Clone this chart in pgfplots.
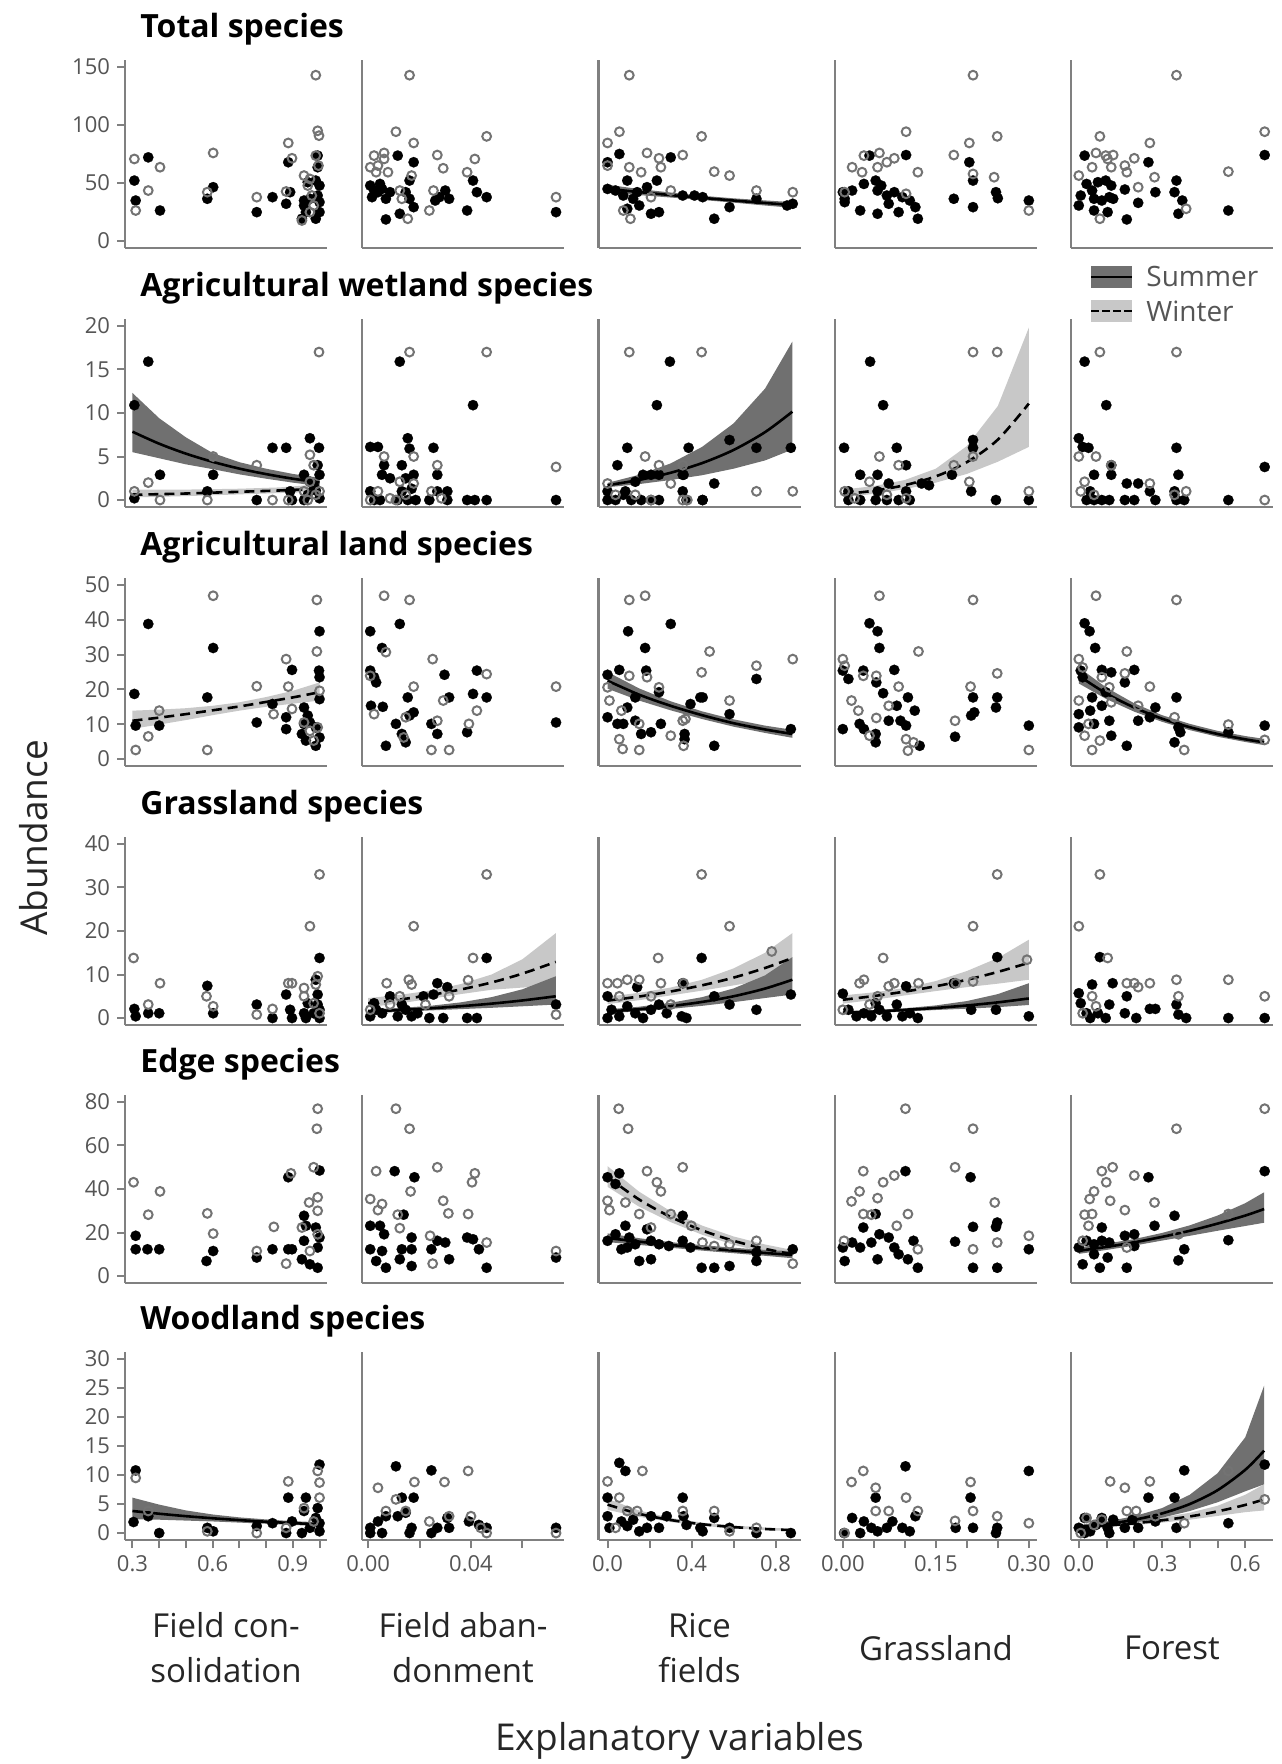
\documentclass[border=0pt]{standalone}
\usepackage{fontspec}
\setmainfont{Open Sans}
\usepackage{pgfplots}
\pgfplotsset{compat=1.18}
\definecolor{axgray}{RGB}{128,128,128}
\definecolor{labgray}{RGB}{85,85,85}
\definecolor{ptgray}{RGB}{115,115,115}
\definecolor{bandS}{RGB}{112,112,112}
\definecolor{bandW}{RGB}{200,200,200}
\pgfplotsset{
  P/.style={width=101pt,height=94pt,scale only axis,anchor=south west,
    axis x line*=bottom,axis y line*=left,
    axis line style={draw=axgray,line width=1.3pt},
    xtick=\empty,ytick=\empty,tick align=outside,major tick length=4pt,
    tick style={draw=axgray,line width=1pt},
    scaled ticks=false,
    tick label style={font=\fontsize{11}{13}\selectfont,text=labgray},
    /pgf/number format/assume math mode=true},
  C1/.style={at={(62.5pt,#1)},xmin=0.272,xmax=1.028},
  C2/.style={at={(181pt,#1)},xmin=-0.0024,xmax=0.0762},
  C3/.style={at={(299.25pt,#1)},xmin=-0.043,xmax=0.919},
  C4/.style={at={(417.5pt,#1)},xmin=-0.0126,xmax=0.3132},
  C5/.style={at={(535.5pt,#1)},xmin=-0.028,xmax=0.700},
  R1/.style={ymin=-6,ymax=156},
  R2/.style={ymin=-0.8,ymax=20.8},
  R3/.style={ymin=-2,ymax=52},
  R4/.style={ymin=-1.6,ymax=41.6},
  R5/.style={ymin=-3.2,ymax=83.2},
  R6/.style={ymin=-1.2,ymax=31.2},
  X1/.style={xtick={0.3,0.4,0.5,0.6,0.7,0.8,0.9,1.0},xticklabels={0.3,,,0.6,,,0.9,}},
  X2/.style={xtick={0,0.02,0.04,0.06},xticklabels={0.00,,0.04,}},
  X3/.style={xtick={0,0.2,0.4,0.6,0.8},xticklabels={0.0,,0.4,,0.8}},
  X4/.style={xtick={0,0.05,0.1,0.15,0.2,0.25,0.3},xticklabels={0.00,,,0.15,,,0.30}},
  X5/.style={xtick={0,0.1,0.2,0.3,0.4,0.5,0.6},xticklabels={0.0,,,0.3,,,0.6}},
  S/.style={only marks,mark=*,mark size=2.6pt,mark options={draw=black,fill=black,line width=0.1pt}},
  W/.style={only marks,mark=o,mark size=2.2pt,mark options={draw=ptgray,line width=1pt}},
  SL/.style={no marks,black,line width=1.3pt,smooth},
  WL/.style={no marks,black,line width=1.3pt,smooth,dash pattern=on 5pt off 3pt},
  SB/.style={no marks,draw=none,fill=bandS},
  WB/.style={no marks,draw=none,fill=bandW},
}
\newcommand\ttl[2]{\node[anchor=west,inner sep=0pt,font=\fontsize{16}{19}\selectfont\bfseries] at (70pt,#1) {#2};}
\begin{document}
\begin{tikzpicture}
\useasboundingbox (0,0) rectangle (640.5pt,-882pt);
% ---------------- Row 1: Total species
\ttl{-14.5pt}{Total species}
\begin{axis}[P,C1=-124pt,R1,ytick={0,50,100,150}]
\addplot[S] coordinates {(0.307,52.1)(0.359,72.1)(0.312,34.9)(0.403,26.3)(0.580,36.4)(0.602,46.4)(0.765,24.9)(0.824,37.8)(0.875,32.1)(0.883,67.9)(0.890,42.1)(0.942,34.9)(0.949,24.9)(0.993,73.6)(0.993,63.6)(0.986,52.1)(1.0,47.8)(0.993,39.2)(0.942,30.6)(0.986,19.2)(1.0,24.9)(0.964,36.4)(0.956,50.7)(0.934,19.2)(1.0,33.5)};
\addplot[W] coordinates {(0.307,70.7)(0.359,43.5)(0.403,63.6)(0.312,26.3)(0.602,75.9)(0.580,42.1)(0.765,37.8)(0.883,84.5)(0.897,71.3)(0.875,42.7)(0.942,56.4)(0.964,53.5)(0.986,73.6)(0.993,95.0)(0.998,90.8)(0.986,142.9)(0.956,47.8)(0.971,39.2)(0.934,17.7)(0.964,24.9)(0.996,65.0)(0.978,30.6)};
\end{axis}
\begin{axis}[P,C2=-124pt,R1]
\addplot[S] coordinates {(0.0008,47.8)(0.0023,43.5)(0.0038,42.1)(0.0054,44.9)(0.0015,37.8)(0.0069,36.4)(0.0115,73.6)(0.0177,67.9)(0.0161,52.1)(0.0146,42.1)(0.0161,36.4)(0.0177,29.2)(0.0123,23.5)(0.0069,18.6)(0.0261,34.9)(0.0277,37.8)(0.0300,43.5)(0.0315,36.4)(0.0385,26.3)(0.0408,52.1)(0.0423,42.1)(0.0461,37.8)(0.0731,24.9)(0.0046,49.2)(0.0085,42.1)};
\addplot[W] coordinates {(0.0161,142.9)(0.0108,94.2)(0.0177,84.5)(0.0023,73.6)(0.0062,75.9)(0.0008,63.6)(0.0038,65.0)(0.0077,59.3)(0.0169,56.4)(0.0123,43.5)(0.0131,36.4)(0.0269,74.1)(0.0292,62.7)(0.0254,43.5)(0.0238,26.3)(0.0154,19.2)(0.0385,59.3)(0.0415,70.7)(0.0461,90.2)(0.0731,37.8)(0.0062,70.7)(0.0031,59.3)};
\end{axis}
\begin{axis}[P,C3=-124pt,R1]
\addplot[SB] coordinates {(0,48.5)(0.15,44.8)(0.3,41.8)(0.45,39.0)(0.6,36.8)(0.75,35.0)(0.88,33.5)(0.88,28.6)(0.75,30.6)(0.6,33.1)(0.45,35.4)(0.3,37.5)(0.15,39.6)(0,41.7)};
\addplot[S] coordinates {(0.0565,75.0)(0,67.9)(0.301,72.1)(0.235,52.1)(0,44.9)(0.038,43.5)(0.075,39.2)(0.094,52.1)(0.122,36.4)(0.151,30.6)(0.094,27.8)(0.207,23.5)(0.245,24.9)(0.188,46.4)(0.358,39.2)(0.414,39.2)(0.141,42.1)(0.453,37.8)(0.508,19.2)(0.581,29.2)(0.709,36.4)(0.882,32.1)(0.855,30.6)};
\addplot[W] coordinates {(0.1035,142.9)(0.0565,94.2)(0,84.5)(0.188,75.9)(0.245,71.3)(0.358,74.1)(0.448,90.2)(0.1035,63.6)(0.16,59.3)(0.254,63.6)(0,65.0)(0.075,26.3)(0.109,19.2)(0.207,37.8)(0.301,43.5)(0.508,59.8)(0.581,56.4)(0.709,43.5)(0.882,42.1)};
\addplot[SL] coordinates {(0,45.0)(0.15,42.2)(0.3,39.6)(0.45,37.2)(0.6,34.9)(0.75,32.8)(0.88,31.0)};
\end{axis}
\begin{axis}[P,C4=-124pt,R1]
\addplot[S] coordinates {(0.043,73.6)(0.102,74.1)(0.204,67.9)(0.210,52.1)(0.179,36.4)(0.210,29.2)(0.247,42.1)(0.250,36.9)(0.300,34.9)(0,42.1)(0.003,36.4)(0.015,43.5)(0.034,49.2)(0.053,52.1)(0.062,47.8)(0.056,43.5)(0.071,39.2)(0.083,42.1)(0.096,37.8)(0.108,34.9)(0.117,29.2)(0.121,19.2)(0.028,26.3)(0.056,23.5)(0.090,24.9)(0.074,32.1)(0.003,33.5)};
\addplot[W] coordinates {(0.210,142.9)(0.102,94.2)(0.204,84.5)(0.249,90.2)(0.179,74.1)(0.034,73.6)(0.059,75.9)(0.083,71.3)(0.015,63.6)(0.031,59.3)(0.056,63.6)(0.121,59.3)(0.210,57.8)(0.244,55.0)(0.300,26.3)(0.003,42.1)(0.102,40.7)(0.071,67.9)};
\end{axis}
\begin{axis}[P,C5=-124pt,R1]
\addplot[S] coordinates {(0.021,73.6)(0.251,67.9)(0.670,74.1)(0.352,52.1)(0.276,42.1)(0.345,42.1)(0.373,34.9)(0.359,23.5)(0.539,26.3)(0.173,18.6)(0.166,44.4)(0.214,32.9)(0.007,39.2)(0,30.6)(0.028,49.2)(0.048,43.5)(0.069,50.7)(0.097,52.1)(0.117,47.8)(0.055,36.4)(0.083,34.9)(0.110,37.8)(0.055,26.3)(0.104,24.9)(0.124,36.4)};
\addplot[W] coordinates {(0.352,142.9)(0.670,94.2)(0.076,90.2)(0.256,84.5)(0.062,75.9)(0.097,73.6)(0.124,74.1)(0.200,71.3)(0.048,63.6)(0.117,63.6)(0.166,65.0)(0.173,59.3)(0,56.4)(0.273,55.0)(0.539,59.8)(0.214,46.4)(0.076,19.2)(0.387,27.8)(0.104,70.7)};
\end{axis}
% ---------------- Row 2: Agricultural wetland species
\ttl{-144pt}{Agricultural wetland species}
\begin{axis}[P,C1=-253.5pt,R2,ytick={0,5,10,15,20}]
\addplot[WB] coordinates {(0.3,1.2)(0.5,1.2)(0.7,1.3)(0.85,1.45)(1.0,1.8)(1.0,0.95)(0.85,0.8)(0.7,0.65)(0.5,0.45)(0.3,0.3)};
\addplot[SB] coordinates {(0.3,12.3)(0.4,9.4)(0.5,7.2)(0.6,5.4)(0.7,4.35)(0.8,3.6)(0.9,3.0)(1.0,2.55)(1.0,1.6)(0.9,2.0)(0.8,2.45)(0.7,2.95)(0.6,3.55)(0.5,4.1)(0.4,4.8)(0.3,5.5)};
\addplot[S] coordinates {(0.307,10.9)(0.359,15.9)(0.403,2.9)(0.307,0.2)(0.580,1.0)(0.602,2.9)(0.765,0)(0.824,6.0)(0.875,6.0)(0.890,1.0)(0.964,7.1)(0.998,6.0)(0.993,4.0)(0.942,2.9)(0.964,2.1)(0.986,1.1)(1.0,0.2)(0.942,0)(0.897,0)(0.956,0.6)(1.0,2.9)(0.978,1.7)};
\addplot[W] coordinates {(0.307,1.0)(0.359,2.0)(0.403,0)(0.580,0)(0.602,5.0)(0.765,4.0)(0.824,0)(0.998,17.0)(0.964,5.2)(0.978,4.0)(0.964,2.1)(0.986,0.6)(0.942,1.0)(1.0,1.0)(0.956,0)(0.883,0)};
\addplot[WL] coordinates {(0.3,0.6)(0.5,0.75)(0.7,0.95)(0.85,1.1)(1.0,1.3)};
\addplot[SL] coordinates {(0.3,7.85)(0.4,6.47)(0.5,5.33)(0.6,4.39)(0.7,3.61)(0.8,2.98)(0.9,2.45)(1.0,2.02)};
\end{axis}
\begin{axis}[P,C2=-253.5pt,R2]
\addplot[S] coordinates {(0.0008,6.1)(0.0038,6.1)(0.0123,15.9)(0.0408,10.9)(0.0062,4.0)(0.0054,2.9)(0.0085,2.5)(0.0154,7.1)(0.0161,5.9)(0.0254,6.0)(0.0269,2.9)(0.0131,4.0)(0.0146,2.5)(0.0177,2.9)(0.0008,1.0)(0.0023,0)(0.0046,0)(0.0115,0)(0.0154,0)(0.0185,0)(0.0238,0)(0.0269,1.0)(0.0308,1.0)(0.0308,0)(0.0385,0)(0.0415,0)(0.0461,0)(0.0731,0)(0.0131,1.0)(0.0169,1.3)};
\addplot[W] coordinates {(0.0062,5.0)(0.0161,17.0)(0.0461,17.0)(0.0177,5.0)(0.0269,4.0)(0.0731,3.8)(0.0038,1.0)(0.0123,2.1)(0.0177,1.9)(0.0246,1.0)(0.0285,0.2)(0.0008,0)(0.0108,0)(0.0146,0.6)(0.0085,0.2)};
\end{axis}
\begin{axis}[P,C3=-253.5pt,R2]
\addplot[SB] coordinates {(0,1.97)(0.15,2.9)(0.3,4.2)(0.45,6.1)(0.6,8.8)(0.75,12.8)(0.88,18.2)(0.88,5.8)(0.75,4.55)(0.6,3.6)(0.45,2.85)(0.3,2.3)(0.15,1.83)(0,1.47)};
\addplot[S] coordinates {(0.047,4.0)(0.094,6.0)(0.235,10.9)(0.297,15.9)(0.386,6.0)(0.358,2.9)(0.169,2.9)(0.132,2.1)(0.207,2.9)(0.245,2.9)(0,1.0)(0,0)(0.038,0)(0.075,0.6)(0.113,0)(0.160,0)(0.207,0)(0.245,0)(0.358,1.0)(0.376,0)(0.452,0)(0.085,1.0)(0.581,6.9)(0.709,6.0)(0.873,6.0)(0.508,1.9)(0.362,2.9)(0.453,0)};
\addplot[W] coordinates {(0.1035,17.0)(0.448,17.0)(0,1.9)(0.179,5.0)(0.245,4.0)(0.301,1.9)(0.358,4.0)(0.038,0.6)(0.132,0.6)(0.207,0)(0.358,0)(0.709,1.0)(0.882,1.0)(0.380,0)};
\addplot[SL] coordinates {(0,1.7)(0.15,2.31)(0.3,3.13)(0.45,4.24)(0.6,5.75)(0.75,7.80)(0.88,10.15)};
\end{axis}
\begin{axis}[P,C4=-253.5pt,R2]
\addplot[WB] coordinates {(0,1.2)(0.05,1.6)(0.1,2.3)(0.15,3.6)(0.2,6.2)(0.25,10.8)(0.3,19.8)(0.3,6.1)(0.25,4.4)(0.2,3.0)(0.15,2.0)(0.1,1.25)(0.05,0.7)(0,0.35)};
\addplot[S] coordinates {(0.002,6.0)(0.044,15.9)(0.065,10.9)(0.087,6.0)(0.210,6.9)(0.210,6.0)(0.102,4.0)(0.028,2.9)(0.056,2.9)(0.074,1.9)(0.127,1.9)(0.139,1.7)(0.176,2.9)(0.207,1.0)(0.247,0)(0.300,0)(0.009,0)(0.028,0)(0.053,0)(0.071,0)(0.090,0)(0.108,0)(0.009,1.0)(0.056,1.0)(0.102,1.0)};
\addplot[W] coordinates {(0.210,17.0)(0.249,17.0)(0.059,5.0)(0.090,4.0)(0.179,4.0)(0.210,5.0)(0.204,2.1)(0.300,1.0)(0.043,2.1)(0.003,1.0)(0.019,0.2)(0.071,0.6)(0.102,0.2)};
\addplot[WL] coordinates {(0,0.67)(0.05,1.07)(0.1,1.71)(0.15,2.72)(0.2,4.35)(0.25,6.94)(0.3,11.08)};
\end{axis}
\begin{axis}[P,C5=-253.5pt,R2]
\addplot[S] coordinates {(0.021,15.9)(0.099,10.9)(0,7.1)(0.014,6.1)(0.035,6.0)(0.352,6.0)(0.670,3.8)(0.117,4.0)(0.055,2.9)(0.117,2.9)(0.173,1.9)(0.214,1.9)(0.359,2.9)(0.345,1.0)(0.539,0)(0.028,0)(0.055,0)(0.083,0)(0.110,0)(0.166,0)(0.200,0)(0.276,0)(0.352,0)(0.380,0)(0.041,1.0)(0.256,1.0)};
\addplot[W] coordinates {(0.076,17.0)(0.352,17.0)(0,5.0)(0.062,5.0)(0.117,4.0)(0.021,2.1)(0.007,1.0)(0.256,1.9)(0.387,1.0)(0.670,0)(0.055,0.6)(0.345,0.6)};
\end{axis}
% legend
\fill[bandS] (545.5pt,-133pt) rectangle (566pt,-144pt);
\draw[black,line width=1.3pt] (545.5pt,-138.5pt) -- (566pt,-138.5pt);
\fill[bandW] (545.5pt,-150pt) rectangle (566pt,-161pt);
\draw[black,line width=1.3pt,dash pattern=on 4pt off 1.5pt] (545.5pt,-155.5pt) -- (566pt,-155.5pt);
\node[anchor=west,inner sep=0pt,text=labgray,font=\fontsize{14}{16}\selectfont] at (573pt,-138.5pt) {Summer};
\node[anchor=west,inner sep=0pt,text=labgray,font=\fontsize{14}{16}\selectfont] at (573pt,-155.5pt) {Winter};
% ---------------- Row 3: Agricultural land species
\ttl{-273.5pt}{Agricultural land species}
\begin{axis}[P,C1=-383pt,R3,ytick={0,10,20,30,40,50}]
\addplot[WB] coordinates {(0.3,13.9)(0.4,14.2)(0.5,14.6)(0.6,15.3)(0.7,16.3)(0.8,17.8)(0.9,19.6)(1.0,22.0)(1.0,16.8)(0.9,15.9)(0.8,15.0)(0.7,13.9)(0.6,12.6)(0.5,11.2)(0.4,9.9)(0.3,8.7)};
\addplot[S] coordinates {(0.359,38.8)(0.307,18.7)(0.602,31.9)(0.580,17.7)(0.312,9.6)(0.400,9.6)(0.765,10.5)(0.824,15.8)(0.897,25.6)(0.875,12.0)(0.875,8.6)(1.0,36.7)(0.998,25.4)(1.0,23.5)(1.0,17.2)(0.942,14.8)(0.956,12.5)(0.942,10.1)(0.986,9.1)(0.934,7.2)(0.949,5.3)(0.986,3.8)(1.0,6.2)(0.964,10.5)};
\addplot[W] coordinates {(0.602,46.9)(0.990,45.7)(0.312,2.6)(0.359,6.5)(0.400,13.9)(0.580,2.6)(0.765,20.9)(0.875,28.7)(0.883,20.8)(0.828,12.9)(0.990,30.9)(0.897,14.4)(0.942,10.5)(0.993,9.1)(0.978,5.3)(0.964,8.1)(1.0,19.6)};
\addplot[WL] coordinates {(0.3,11.0)(0.4,11.9)(0.5,12.9)(0.6,14.0)(0.7,15.1)(0.8,16.4)(0.9,17.7)(1.0,19.2)};
\end{axis}
\begin{axis}[P,C2=-383pt,R3]
\addplot[S] coordinates {(0.0008,36.7)(0.0123,38.8)(0.0054,31.9)(0.0008,25.4)(0.0031,22.0)(0.0011,15.3)(0.0057,15.0)(0.0069,3.8)(0.0108,10.1)(0.0131,7.2)(0.0146,4.8)(0.0154,17.7)(0.0161,12.5)(0.0177,13.4)(0.0246,10.1)(0.0269,7.2)(0.0297,24.2)(0.0315,17.7)(0.0385,7.7)(0.0408,18.7)(0.0423,25.4)(0.0461,17.7)(0.0731,10.5)(0.0023,23.5)};
\addplot[W] coordinates {(0.0062,46.9)(0.0161,45.7)(0.0069,30.7)(0.0008,23.9)(0.0023,12.9)(0.0177,20.8)(0.0251,28.7)(0.0246,2.6)(0.0315,2.6)(0.0269,11.0)(0.0292,16.8)(0.0423,13.9)(0.0392,10.1)(0.0461,24.4)(0.0731,20.8)(0.0146,12.0)(0.0138,6.2)};
\end{axis}
\begin{axis}[P,C3=-383pt,R3]
\addplot[SB] coordinates {(0,25.0)(0.15,20.3)(0.3,16.6)(0.45,13.7)(0.6,11.4)(0.75,9.6)(0.88,8.4)(0.88,6.1)(0.75,7.5)(0.6,9.3)(0.45,11.5)(0.3,14.0)(0.15,16.8)(0,20.2)};
\addplot[S] coordinates {(0.098,36.7)(0.301,38.8)(0.179,31.9)(0.184,25.4)(0.056,25.6)(0,24.2)(0.245,19.2)(0.132,17.7)(0.094,14.8)(0,12.0)(0.047,10.1)(0.075,10.1)(0.132,11.0)(0.160,7.2)(0.207,7.7)(0.254,10.1)(0.367,5.7)(0.367,7.2)(0.442,17.7)(0.395,15.8)(0.453,17.7)(0.581,12.9)(0.709,23.0)(0.873,8.6)(0.508,3.8)};
\addplot[W] coordinates {(0.1035,45.7)(0.179,46.9)(0,20.6)(0.009,16.8)(0.1035,23.9)(0.188,23.5)(0.245,20.6)(0.066,13.9)(0.151,10.1)(0.056,5.7)(0.072,2.9)(0.151,2.6)(0.301,6.7)(0.358,11.0)(0.448,24.9)(0.486,30.9)(0.362,3.8)(0.581,16.8)(0.709,26.8)(0.882,28.7)(0.371,11.5)};
\addplot[SL] coordinates {(0,22.5)(0.15,18.5)(0.3,15.3)(0.45,12.6)(0.6,10.3)(0.75,8.5)(0.88,7.2)};
\end{axis}
\begin{axis}[P,C4=-383pt,R3]
\addplot[S] coordinates {(0.043,39.0)(0.056,36.7)(0.059,31.9)(0,25.4)(0.009,23.0)(0.033,25.4)(0.054,22.0)(0.083,25.6)(0.065,18.9)(0.105,17.7)(0.116,13.9)(0.087,15.3)(0.074,11.0)(0.093,11.0)(0.102,9.6)(0,8.6)(0.027,10.1)(0.034,8.6)(0.053,7.2)(0.053,4.8)(0.124,3.8)(0.210,17.7)(0.207,12.5)(0.212,13.4)(0.249,17.7)(0.247,14.8)(0.300,9.6)(0.181,6.4)};
\addplot[W] coordinates {(0.059,46.9)(0.210,45.7)(0,28.7)(0.003,26.8)(0.033,23.9)(0.122,30.9)(0.014,16.8)(0.025,13.9)(0.054,23.9)(0.090,20.8)(0.074,15.3)(0.054,11.8)(0.043,6.7)(0.102,5.7)(0.105,2.4)(0.114,4.8)(0.181,11.0)(0.206,20.8)(0.249,24.6)(0.300,2.6)};
\end{axis}
\begin{axis}[P,C5=-383pt,R3]
\addplot[SB] coordinates {(0,26.3)(0.1,20.5)(0.2,16.0)(0.3,12.6)(0.4,10.1)(0.5,8.1)(0.6,6.6)(0.668,5.8)(0.668,4.0)(0.6,4.9)(0.5,6.4)(0.4,8.3)(0.3,10.7)(0.2,13.6)(0.1,17.2)(0,21.7)};
\addplot[S] coordinates {(0.021,39.0)(0.039,36.7)(0.059,31.9)(0.014,23.5)(0.007,25.4)(0.083,25.6)(0.117,24.9)(0.200,25.6)(0.166,22.0)(0.048,17.7)(0.097,19.2)(0.083,15.3)(0,12.9)(0.041,13.9)(0.110,11.0)(0,9.1)(0.055,10.1)(0.117,6.7)(0.173,3.8)(0.214,11.0)(0.276,14.8)(0.256,12.0)(0.352,17.7)(0.359,9.1)(0.345,4.8)(0.366,7.7)(0.539,7.7)(0.670,9.6)};
\addplot[W] coordinates {(0.062,46.9)(0.352,45.7)(0.173,30.9)(0,28.7)(0.014,26.3)(0.083,23.5)(0.166,24.6)(0.256,20.8)(0.110,20.6)(0,16.8)(0.214,15.3)(0.117,16.3)(0.021,6.7)(0.076,5.3)(0.048,2.6)(0.345,12.0)(0.380,2.6)(0.539,9.9)(0.670,5.5)(0.035,10.1)};
\addplot[SL] coordinates {(0,23.9)(0.1,18.8)(0.2,14.8)(0.3,11.6)(0.4,9.15)(0.5,7.2)(0.6,5.66)(0.668,4.81)};
\end{axis}
% ---------------- Row 4: Grassland species
\ttl{-403pt}{Grassland species}
\begin{axis}[P,C1=-512.5pt,R4,ytick={0,10,20,30,40}]
\addplot[S] coordinates {(0.307,2.1)(0.312,0.4)(0.359,1.1)(0.400,1.1)(0.580,7.4)(0.602,1.1)(0.765,3.1)(0.824,0)(0.875,5.4)(0.890,1.9)(0.897,0)(0.942,1.1)(0.956,3.4)(1.0,13.8)(0.986,8.8)(0.993,5.4)(0.993,3.1)(0.978,1.1)(1.0,0)(0.949,0)(1.0,1.9)};
\addplot[W] coordinates {(0.304,13.8)(0.403,8.0)(0.359,3.1)(0.577,5.0)(0.602,2.7)(0.765,0.8)(0.824,2.1)(0.883,8.0)(0.897,8.0)(0.942,6.9)(0.942,5.0)(0.964,21.1)(1.0,33.0)(0.986,7.7)(0.993,9.6)(0.978,3.4)(1.0,1.1)};
\end{axis}
\begin{axis}[P,C2=-512.5pt,R4]
\addplot[WB] coordinates {(0,4.6)(0.012,5.3)(0.024,6.3)(0.036,7.8)(0.048,10.0)(0.06,13.5)(0.073,19.5)(0.073,7.4)(0.06,7.0)(0.048,6.5)(0.036,5.5)(0.024,4.4)(0.012,3.35)(0,2.5)};
\addplot[SB] coordinates {(0,2.0)(0.012,2.3)(0.024,2.8)(0.036,3.6)(0.048,4.8)(0.06,6.6)(0.073,9.6)(0.073,3.1)(0.06,2.7)(0.048,2.35)(0.036,2.05)(0.024,1.75)(0.012,1.4)(0,1.1)};
\addplot[S] coordinates {(0.0461,13.8)(0.0269,8.0)(0.0215,5.0)(0.0254,5.4)(0.0308,7.1)(0.0731,3.1)(0.0008,0.4)(0.0031,1.9)(0.0054,1.1)(0.0085,5.0)(0.0115,0.4)(0.0146,1.9)(0.0169,0.4)(0.0192,1.1)(0.0238,0)(0.0292,0)(0.0385,0)(0.0423,0)(0.0023,3.4)(0.0131,3.1)};
\addplot[W] coordinates {(0.0177,21.1)(0.0461,33.0)(0.0408,13.8)(0.0072,8.0)(0.0158,8.8)(0.0169,7.7)(0.0389,8.7)(0.0315,5.0)(0.0123,5.0)(0.0008,1.9)(0.0085,3.1)(0.0223,3.1)(0.0731,0.8)};
\addplot[WL] coordinates {(0,3.4)(0.012,4.23)(0.024,5.27)(0.036,6.56)(0.048,8.17)(0.06,10.2)(0.073,12.9)};
\addplot[SL] coordinates {(0,1.5)(0.012,1.83)(0.024,2.23)(0.036,2.72)(0.048,3.31)(0.06,4.04)(0.073,5.0)};
\end{axis}
\begin{axis}[P,C3=-512.5pt,R4]
\addplot[WB] coordinates {(0,4.9)(0.15,5.8)(0.3,7.0)(0.45,8.8)(0.6,11.4)(0.75,15.0)(0.88,19.5)(0.88,9.6)(0.75,8.7)(0.6,7.5)(0.45,6.3)(0.3,5.2)(0.15,4.1)(0,3.2)};
\addplot[SB] coordinates {(0,2.0)(0.15,2.6)(0.3,3.5)(0.45,4.8)(0.6,6.8)(0.75,9.8)(0.88,14.0)(0.88,5.4)(0.75,4.6)(0.6,3.65)(0.45,2.8)(0.3,2.1)(0.15,1.55)(0,1.1)};
\addplot[S] coordinates {(0.448,13.8)(0.358,8.0)(0.141,7.1)(0,5.0)(0.019,1.9)(0.056,0.4)(0.094,2.7)(0.132,1.1)(0.169,0)(0.207,1.9)(0.245,3.1)(0.282,1.1)(0.376,0)(0,0)(0.508,5.0)(0.581,3.1)(0.709,1.9)(0.873,5.4)(0.353,0.4)};
\addplot[W] coordinates {(0,8.0)(0.047,8.0)(0.094,8.8)(0.151,8.8)(0.241,13.8)(0.254,8.0)(0.448,33.0)(0.207,5.0)(0.056,5.0)(0.301,3.1)(0.581,21.1)(0.362,8.0)(0.782,15.3)};
\addplot[WL] coordinates {(0,4.0)(0.15,4.94)(0.3,6.1)(0.45,7.52)(0.6,9.29)(0.75,11.5)(0.88,13.8)};
\addplot[SL] coordinates {(0,1.5)(0.15,2.03)(0.3,2.74)(0.45,3.70)(0.6,5.0)(0.75,6.77)(0.88,8.8)};
\end{axis}
\begin{axis}[P,C4=-512.5pt,R4]
\addplot[WB] coordinates {(0,5.2)(0.05,5.9)(0.1,6.9)(0.15,8.5)(0.2,10.8)(0.25,13.8)(0.3,18.0)(0.3,8.8)(0.25,7.9)(0.2,7.1)(0.15,6.2)(0.1,5.2)(0.05,4.2)(0,3.3)};
\addplot[SB] coordinates {(0,1.6)(0.05,1.85)(0.1,2.25)(0.15,2.9)(0.2,3.9)(0.25,5.5)(0.3,8.0)(0.3,3.0)(0.25,2.5)(0.2,2.15)(0.15,1.85)(0.1,1.5)(0.05,1.15)(0,0.85)};
\addplot[S] coordinates {(0.249,14.0)(0,5.6)(0.102,7.3)(0.179,8.0)(0.300,0.4)(0.009,1.9)(0.022,0.4)(0.034,1.1)(0.046,0.4)(0.059,1.9)(0.071,0.4)(0.087,3.1)(0.096,0.4)(0.108,1.1)(0.121,0)(0.207,1.9)(0.247,1.9)(0.053,3.4)};
\addplot[W] coordinates {(0.249,33.0)(0.210,21.1)(0.065,13.8)(0.027,8.0)(0.034,8.8)(0.074,7.3)(0.083,8.0)(0.122,8.0)(0.056,5.0)(0.182,8.0)(0.210,8.4)(0.297,13.4)(0,1.9)(0.043,3.1)};
\addplot[WL] coordinates {(0,4.2)(0.05,5.05)(0.1,6.08)(0.15,7.31)(0.2,8.79)(0.25,10.6)(0.3,12.7)};
\addplot[SL] coordinates {(0,1.2)(0.05,1.5)(0.1,1.86)(0.15,2.32)(0.2,2.89)(0.25,3.6)(0.3,4.5)};
\end{axis}
\begin{axis}[P,C5=-512.5pt,R4]
\addplot[S] coordinates {(0.076,14.0)(0.048,7.7)(0.122,8.0)(0.173,5.0)(0,5.7)(0.007,3.4)(0.028,1.1)(0.041,0)(0.069,1.1)(0.097,0)(0.110,3.1)(0.166,1.1)(0.207,0)(0.256,2.1)(0.276,2.1)(0.352,3.1)(0.359,0.8)(0.387,0)(0.539,0)(0.670,0)};
\addplot[W] coordinates {(0.076,33.0)(0,21.1)(0.104,13.8)(0.173,8.0)(0.200,8.0)(0.214,7.1)(0.256,8.0)(0.352,8.8)(0.359,5.0)(0.539,8.8)(0.670,5.0)(0.048,5.0)(0.062,2.7)(0.014,1.1)};
\end{axis}
% ---------------- Row 5: Edge species
\ttl{-532pt}{Edge species}
\begin{axis}[P,C1=-641.5pt,R5,ytick={0,20,40,60,80}]
\addplot[S] coordinates {(0.312,18.5)(0.312,12.3)(0.356,12.3)(0.400,12.3)(0.577,6.9)(0.602,11.5)(0.765,8.5)(0.824,12.3)(0.883,12.3)(0.897,12.3)(0.883,45.4)(1.0,48.5)(0.942,27.7)(0.949,23.1)(0.986,22.3)(0.942,16.2)(0.993,13.1)(0.934,7.7)(0.964,5.4)(0.993,3.8)(1.0,17.7)};
\addplot[W] coordinates {(0.304,43.1)(0.403,38.9)(0.359,28.2)(0.580,28.8)(0.602,19.5)(0.765,11.5)(0.829,22.6)(0.875,5.7)(0.893,47.2)(0.978,50.0)(0.993,76.9)(0.990,67.7)(0.961,33.8)(0.993,36.2)(0.993,30.0)(0.934,22.3)(0.964,11.5)(0.993,19.2)};
\end{axis}
\begin{axis}[P,C2=-641.5pt,R5]
\addplot[S] coordinates {(0.0103,48.2)(0.0180,45.4)(0.0138,28.2)(0.0008,23.1)(0.0046,23.1)(0.0062,19.2)(0.0008,12.3)(0.0054,11.5)(0.0031,6.9)(0.0069,3.8)(0.0123,7.7)(0.0131,12.3)(0.0169,12.3)(0.0169,17.7)(0.0169,4.6)(0.0246,12.3)(0.0269,16.2)(0.0300,15.4)(0.0315,7.7)(0.0385,17.7)(0.0408,16.9)(0.0431,12.3)(0.0461,3.8)(0.0731,8.5)};
\addplot[W] coordinates {(0.0108,76.9)(0.0161,67.7)(0.0031,48.2)(0.0269,50.0)(0.0415,47.2)(0.0404,43.1)(0.0165,38.9)(0.0008,35.4)(0.0054,33.1)(0.0038,30.3)(0.0292,34.6)(0.0115,28.2)(0.0312,28.8)(0.0389,28.5)(0.0123,22.0)(0.0241,18.5)(0.0461,15.4)(0.0251,5.7)(0.0731,11.5)};
\end{axis}
\begin{axis}[P,C3=-641.5pt,R5]
\addplot[WB] coordinates {(0,50.5)(0.15,38.8)(0.3,29.8)(0.45,23.2)(0.6,18.2)(0.75,14.5)(0.88,12.0)(0.88,8.3)(0.75,10.8)(0.6,14.4)(0.45,19.0)(0.3,24.8)(0.15,31.9)(0,41.0)};
\addplot[SB] coordinates {(0,19.6)(0.15,17.4)(0.3,15.6)(0.45,14.2)(0.6,13.0)(0.75,12.0)(0.88,11.4)(0.88,8.2)(0.75,9.3)(0.6,10.5)(0.45,11.7)(0.3,13.0)(0.15,14.3)(0,15.6)};
\addplot[S] coordinates {(0.056,47.2)(0,45.4)(0.038,42.3)(0,16.2)(0.038,19.2)(0.085,23.1)(0.1035,17.7)(0.132,14.6)(0.188,21.5)(0.207,16.2)(0.066,12.3)(0.094,13.1)(0.151,6.9)(0.207,7.7)(0.245,14.6)(0.292,13.8)(0.358,27.7)(0.358,16.2)(0.395,13.1)(0.448,3.8)(0.508,3.8)(0.581,4.6)(0.709,6.9)(0.882,12.3)(0.709,10.8)};
\addplot[W] coordinates {(0.053,76.9)(0.098,67.7)(0.188,48.2)(0.358,50.0)(0.235,43.1)(0.254,38.9)(0,34.6)(0.009,30.3)(0.085,33.8)(0.151,28.5)(0.301,28.5)(0.452,15.4)(0.207,22.3)(0.508,13.8)(0.581,14.6)(0.709,16.2)(0.882,5.7)(0.399,23.1)};
\addplot[WL] coordinates {(0,45.5)(0.15,35.2)(0.3,27.2)(0.45,21.0)(0.6,16.2)(0.75,12.5)(0.88,10.0)};
\addplot[SL] coordinates {(0,17.5)(0.15,15.8)(0.3,14.3)(0.45,12.9)(0.6,11.7)(0.75,10.6)(0.88,9.7)};
\end{axis}
\begin{axis}[P,C4=-641.5pt,R5]
\addplot[S] coordinates {(0.101,48.2)(0.206,45.4)(0.053,28.5)(0.033,22.3)(0,13.1)(0.003,6.9)(0.015,15.4)(0.028,13.1)(0.046,15.4)(0.059,19.2)(0.074,17.7)(0.056,7.7)(0.083,13.1)(0.090,10.0)(0.105,7.7)(0.121,3.8)(0.114,16.2)(0.181,15.8)(0.210,22.6)(0.247,22.6)(0.249,24.6)(0.210,3.8)(0.249,3.8)(0.300,12.3)};
\addplot[W] coordinates {(0.101,76.9)(0.210,67.7)(0.033,48.2)(0.181,50.0)(0.065,43.1)(0.083,46.2)(0.027,38.9)(0.014,34.3)(0.056,35.8)(0.033,28.5)(0.046,28.2)(0.105,28.5)(0.087,23.1)(0.245,33.8)(0.002,16.2)(0.121,12.3)(0.210,12.3)(0.249,15.4)(0.300,18.5)};
\end{axis}
\begin{axis}[P,C5=-641.5pt,R5]
\addplot[SB] coordinates {(0,13.2)(0.1,14.9)(0.2,17.0)(0.3,19.8)(0.4,23.3)(0.5,27.8)(0.6,33.5)(0.668,38.5)(0.668,24.5)(0.6,23.0)(0.5,20.8)(0.4,18.5)(0.3,16.3)(0.2,14.0)(0.1,12.0)(0,10.2)};
\addplot[S] coordinates {(0.251,45.4)(0.670,48.2)(0.345,27.7)(0.273,23.1)(0.083,22.3)(0.166,18.5)(0.200,19.2)(0,13.1)(0.028,16.2)(0.055,14.6)(0.083,16.2)(0.110,15.4)(0.014,5.4)(0.055,10.0)(0.076,3.8)(0.104,8.5)(0.173,3.8)(0.200,13.8)(0.359,7.2)(0.380,12.3)(0.539,16.5)};
\addplot[W] coordinates {(0.670,76.9)(0.352,67.7)(0.083,48.2)(0.122,50.0)(0.200,46.2)(0.099,43.1)(0.055,38.9)(0.039,35.4)(0.113,34.6)(0.166,30.3)(0.273,33.8)(0.021,28.2)(0.048,28.5)(0.035,23.1)(0.014,16.2)(0.173,13.1)(0.359,19.2)(0.539,28.5)};
\addplot[SL] coordinates {(0,11.6)(0.1,13.4)(0.2,15.5)(0.3,18.0)(0.4,20.8)(0.5,24.1)(0.6,27.8)(0.668,30.8)};
\end{axis}
% ---------------- Row 6: Woodland species
\ttl{-660.5pt}{Woodland species}
\begin{axis}[P,C1=-770pt,R6,X1,ytick={0,5,10,15,20,25,30}]
\addplot[SB] coordinates {(0.3,6.1)(0.4,4.9)(0.5,3.9)(0.6,3.2)(0.7,2.7)(0.8,2.35)(0.9,2.05)(1.0,1.85)(1.0,1.2)(0.9,1.4)(0.8,1.6)(0.7,1.8)(0.6,2.0)(0.5,2.15)(0.4,2.3)(0.3,2.4)};
\addplot[S] coordinates {(0.312,10.8)(0.304,1.9)(0.359,2.9)(0.400,0)(0.580,0.9)(0.602,0.3)(0.765,1.2)(0.824,1.7)(0.875,0)(0.883,6.1)(0.897,2.0)(0.949,6.1)(0.942,3.8)(1.0,11.8)(0.993,4.3)(0.986,2.6)(0.964,0.9)(0.934,0)(1.0,0.3)(1.0,1.7)};
\addplot[W] coordinates {(0.312,9.5)(0.359,3.8)(0.765,0)(0.883,8.9)(0.993,10.7)(1.0,8.7)(1.0,6.1)(0.942,4.3)(0.978,2.0)(0.875,0.9)(0.580,0.3)};
\addplot[SL] coordinates {(0.3,3.8)(0.4,3.33)(0.5,2.91)(0.6,2.55)(0.7,2.23)(0.8,1.95)(0.9,1.71)(1.0,1.50)};
\end{axis}
\begin{axis}[P,C2=-770pt,R6,X2]
\addplot[S] coordinates {(0.0108,11.5)(0.0246,10.8)(0.0131,6.1)(0.0177,6.1)(0.0115,2.9)(0.0146,3.5)(0.0008,0.9)(0.0038,2.0)(0.0069,2.9)(0.0008,0)(0.0054,0)(0.0169,0.9)(0.0161,0)(0.0246,0)(0.0269,0.9)(0.0315,0.9)(0.0308,2.6)(0.0392,2.0)(0.0431,1.4)(0.0461,0.9)(0.0731,0.9)};
\addplot[W] coordinates {(0.0038,7.8)(0.0180,8.8)(0.0297,8.8)(0.0389,10.7)(0.0108,5.8)(0.0146,3.8)(0.0069,3.8)(0.0238,2.0)(0.0315,2.9)(0.0400,2.9)(0.0438,0.9)(0.0731,0)(0.0461,0)};
\end{axis}
\begin{axis}[P,C3=-770pt,R6,X3]
\addplot[WB] coordinates {(0,5.9)(0.15,3.9)(0.3,2.6)(0.45,1.8)(0.6,1.3)(0.75,0.95)(0.88,0.75)(0.88,0.33)(0.75,0.5)(0.6,0.8)(0.45,1.25)(0.3,1.9)(0.15,2.8)(0,4.0)};
\addplot[S] coordinates {(0.056,12.1)(0.085,10.7)(0,6.1)(0,2.9)(0.009,0.9)(0.066,2.0)(0.094,1.2)(0.122,2.3)(0.151,0.3)(0.188,0.9)(0.207,2.9)(0.245,0.9)(0.282,2.9)(0.358,6.1)(0.376,1.4)(0.442,0.9)(0.362,2.9)(0.453,0.3)(0.508,2.6)(0.581,0.9)(0.709,0)(0.873,0)};
\addplot[W] coordinates {(0,8.9)(0.056,6.1)(0.166,10.7)(0.094,3.8)(0.141,3.8)(0.358,3.8)(0.038,0.9)(0.508,3.8)(0.581,0.3)(0.709,0.9)};
\addplot[WL] coordinates {(0,4.9)(0.15,3.32)(0.3,2.25)(0.45,1.52)(0.6,1.03)(0.75,0.70)(0.88,0.50)};
\end{axis}
\begin{axis}[P,C4=-770pt,R6,X4]
\addplot[S] coordinates {(0.101,11.5)(0.300,10.7)(0.053,6.1)(0.206,6.1)(0.002,0)(0.028,0)(0.015,2.6)(0.034,2.0)(0.046,0.9)(0.056,0.3)(0.071,0.9)(0.080,2.0)(0.096,0.9)(0.108,0.3)(0.117,2.9)(0.210,0.9)(0.249,0.9)(0.247,0)(0.182,0.9)};
\addplot[W] coordinates {(0.014,8.8)(0.033,10.7)(0.053,7.8)(0.102,6.1)(0.074,3.8)(0.053,3.8)(0.121,3.8)(0.206,8.8)(0.210,3.8)(0.249,2.9)(0.300,1.7)(0.181,2.1)(0.003,0)};
\end{axis}
\begin{axis}[P,C5=-770pt,R6,X5]
\addplot[WB] coordinates {(0,1.3)(0.1,1.65)(0.2,2.1)(0.3,2.7)(0.4,3.5)(0.5,4.7)(0.6,6.6)(0.668,8.4)(0.668,3.9)(0.6,3.6)(0.5,2.95)(0.4,2.3)(0.3,1.8)(0.2,1.35)(0.1,1.0)(0,0.75)};
\addplot[SB] coordinates {(0,1.4)(0.1,2.0)(0.2,2.9)(0.3,4.3)(0.4,6.6)(0.5,10.3)(0.6,16.5)(0.668,25.4)(0.668,8.4)(0.6,7.2)(0.5,5.3)(0.4,3.8)(0.3,2.65)(0.2,1.8)(0.1,1.2)(0,0.8)};
\addplot[S] coordinates {(0.380,10.8)(0.670,11.8)(0.251,6.1)(0.345,6.1)(0.539,1.7)(0.352,0.9)(0,0.9)(0.021,2.6)(0.041,0.3)(0.062,1.4)(0.083,2.6)(0.104,0.9)(0.124,2.3)(0.166,0.9)(0.193,2.3)(0.214,0.9)(0.276,2.0)(0.021,0)(0.110,0)};
\addplot[W] coordinates {(0.113,8.9)(0.166,7.8)(0.256,8.9)(0.539,10.7)(0.670,5.8)(0.173,3.8)(0.207,3.8)(0.380,1.7)(0.028,2.6)(0.055,1.4)(0.083,2.3)(0.276,2.9)(0.007,0)};
\addplot[WL] coordinates {(0,1.0)(0.1,1.30)(0.2,1.69)(0.3,2.2)(0.4,2.86)(0.5,3.73)(0.6,4.85)(0.668,5.8)};
\addplot[SL] coordinates {(0,1.05)(0.1,1.55)(0.2,2.29)(0.3,3.38)(0.4,5.0)(0.5,7.38)(0.6,10.9)(0.668,14.2)};
\end{axis}
% ---------------- axis labels
\node[rotate=90,inner sep=0pt,text=black!85,font=\fontsize{18.5}{22}\selectfont] at (17pt,-419pt) {Abundance};
\begin{scope}[every node/.style={align=center,inner sep=0pt,text=black!85,font=\fontsize{16.5}{22.5}\selectfont}]
\node at (113pt,-824pt) {Field con-\\solidation};
\node at (231.5pt,-824pt) {Field aban-\\donment};
\node at (349.75pt,-824pt) {Rice\\fields};
\node at (468pt,-824pt) {Grassland};
\node at (586pt,-824pt) {Forest};
\end{scope}
\node[inner sep=0pt,text=black!85,font=\fontsize{18.5}{22}\selectfont] at (340pt,-870.5pt) {Explanatory variables};
\end{tikzpicture}
\end{document}
